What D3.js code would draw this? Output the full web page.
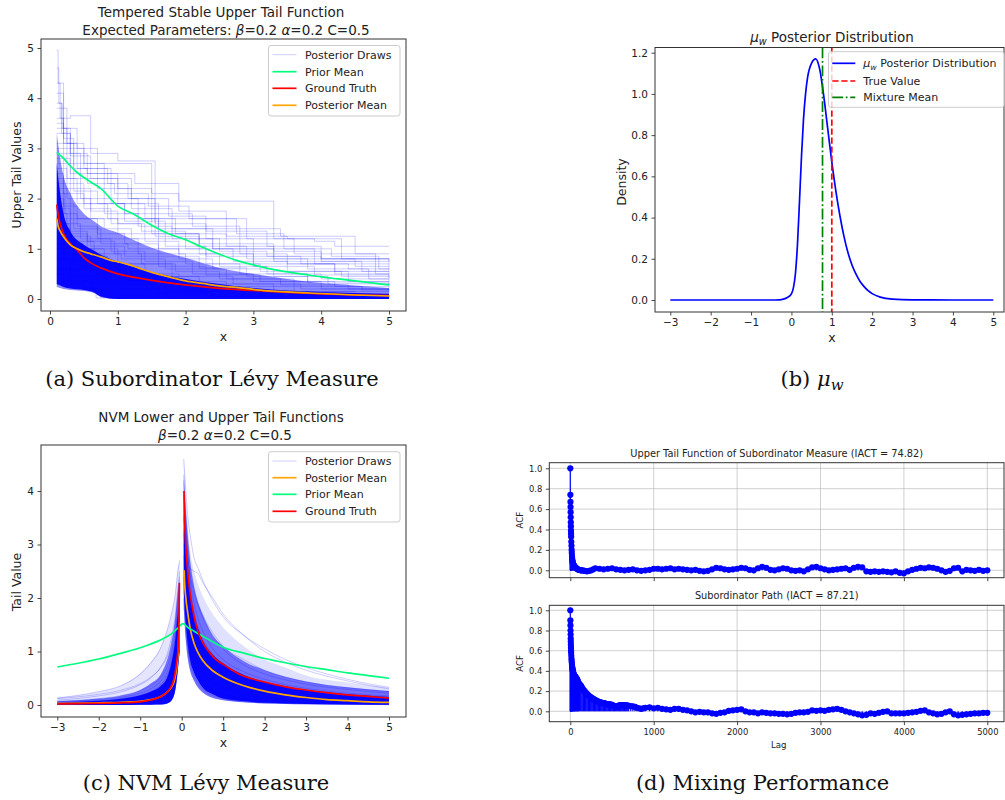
<!DOCTYPE html>
<html>
<head>
<meta charset="utf-8">
<script src="https://cdn.jsdelivr.net/npm/d3@7"></script>
<style>
  body { margin: 0; background: #ffffff; }
  svg { display: block; }
</style>
</head>
<body>
<script>
// ---------------- (a) Subordinator Lévy measure: upper tail function ----------------
const aPriorMean = [[0.1,2.92],[0.2,2.8],[0.3,2.65],[0.4,2.52],[0.5,2.42],[0.6,2.33],[0.75,2.2],[1.0,1.85],[1.25,1.68],[1.5,1.47],[1.75,1.3],[2.0,1.18],[2.25,1.03],[2.5,0.89],[2.75,0.77],[3.0,0.68],[3.25,0.6],[3.5,0.54],[3.75,0.49],[4.0,0.44],[4.25,0.4],[4.5,0.36],[4.75,0.32],[5.0,0.28]];
const aGroundTruth = [[0.1,1.88],[0.12,1.68],[0.15,1.5],[0.2,1.3],[0.25,1.18],[0.3,1.1],[0.4,0.98],[0.5,0.82],[0.6,0.72],[0.75,0.62],[1.0,0.5],[1.25,0.43],[1.5,0.37],[1.75,0.32],[2.0,0.28],[2.5,0.21],[3.0,0.17],[3.5,0.13],[4.0,0.1],[4.5,0.08],[5.0,0.07]];
const aPosteriorMean = [[0.1,1.6],[0.12,1.45],[0.15,1.35],[0.2,1.24],[0.25,1.15],[0.3,1.08],[0.4,1.0],[0.5,0.94],[0.6,0.9],[0.75,0.84],[0.9,0.77],[1.0,0.74],[1.15,0.69],[1.3,0.62],[1.5,0.53],[1.75,0.44],[2.0,0.36],[2.25,0.31],[2.5,0.26],[2.75,0.23],[3.0,0.19],[3.5,0.14],[4.0,0.11],[4.5,0.08],[5.0,0.06]];
// density envelopes of the posterior draws
const aBandX    = [0.1,0.15,0.2,0.3,0.5,0.65,0.75,1.0,1.5,2.0,2.5,3.0,3.5,4.0,4.5,5.0];
const aBandLow  = [0.24,0.22,0.2,0.18,0.16,0.12,0.04,0,0,0,0,0,0,0,0,0];
const aMidHigh  = [3.3,2.8,2.45,2.1,1.7,1.55,1.45,1.32,1.02,0.82,0.62,0.5,0.4,0.32,0.27,0.22];
const aCoreHigh = [2.7,2.1,1.7,1.35,1.08,0.96,0.88,0.74,0.54,0.4,0.3,0.22,0.17,0.14,0.12,0.1];
const aCoreLow  = [0.3,0.27,0.24,0.21,0.18,0.13,0.05,0,0,0,0,0,0,0,0,0];
// individual step-function posterior draws
const aDraws = [
  [[0.1,4.95],[0.12,4.3],[0.2,3.1],[0.4,2.6],[0.9,1.9],[1.6,1.4],[2.4,1.0],[3.3,0.75],[4.6,0.55],[5,0.55]],
  [[0.1,4.3],[0.15,3.6],[0.3,3.65],[0.6,2.9],[1.0,2.75],[1.55,1.25],[2.2,0.9],[3.0,0.7],[4.2,0.5],[5,0.5]],
  [[0.1,3.8],[0.25,3.1],[0.5,2.7],[1.5,2.1],[1.9,1.95],[3.3,1.2],[3.9,1.15],[4.2,1.05],[5,1.05]],
  [[0.1,3.5],[0.2,2.9],[0.45,2.4],[0.8,2.0],[1.3,1.6],[2.0,1.6],[2.9,1.2],[3.6,0.9],[4.8,0.5],[5,0.5]],
  [[0.1,3.3],[0.3,2.5],[0.7,2.2],[1.2,1.8],[1.8,1.4],[2.6,1.25],[3.5,1.2],[4.3,0.8],[5,0.8]],
  [[0.1,2.9],[0.2,2.3],[0.5,1.9],[1.1,1.55],[1.7,1.2],[2.5,0.95],[3.2,0.85],[4.0,0.75],[5,0.75]],
  [[0.1,2.6],[0.25,2.0],[0.6,1.6],[1.0,1.3],[1.6,1.0],[2.3,0.7],[3.1,0.55],[4.4,0.35],[5,0.35]],
  [[0.1,2.2],[0.3,1.6],[0.7,1.2],[1.3,0.9],[2.0,0.7],[2.8,0.5],[3.8,0.35],[5,0.3]],
  [[0.1,2.0],[0.2,1.5],[0.45,1.2],[0.9,0.95],[1.4,0.75],[2.1,0.5],[3.0,0.35],[4.0,0.2],[5,0.2]],
  [[0.1,1.7],[0.25,1.3],[0.55,1.0],[1.0,0.7],[1.8,0.45],[2.7,0.3],[3.7,0.2],[5,0.15]],
  [[0.1,1.4],[0.3,1.0],[0.8,0.7],[1.4,0.45],[2.2,0.3],[3.3,0.15],[4.5,0.1],[5,0.1]],
  [[0.1,1.2],[0.2,0.9],[0.6,0.6],[1.2,0.35],[2.0,0.2],[3.0,0.1],[5,0.05]],
  [[0.1,0.8],[0.3,0.6],[0.7,0.35],[1.5,0.2],[2.5,0.08],[3.5,0.03],[5,0.02]],
  [[0.1,0.5],[0.2,0.35],[0.6,0.2],[0.75,0.03],[1.8,0.01],[5,0.01]],
  [[0.1,0.3],[0.5,0.22],[0.68,0.02],[5,0.01]],
  [[0.1,3.1],[0.35,2.6],[0.55,2.3],[0.95,2.1],[1.45,1.85],[2.05,1.6],[2.75,1.3],[3.45,1.0],[4.15,0.85],[4.85,0.6],[5,0.6]],
  [[0.1,4.6],[0.13,3.9],[0.18,3.4],[0.4,3.0],[0.7,2.5],[1.25,2.3],[1.9,1.75],[2.6,1.4],[3.4,1.25],[4.5,0.9],[5,0.9]],
  [[0.1,2.4],[0.4,1.9],[0.85,1.6],[1.6,1.3],[2.2,1.05],[2.9,0.8],[3.8,0.6],[4.7,0.4],[5,0.4]],
  [[0.1,1.9],[0.35,1.4],[0.75,1.1],[1.15,1.0],[1.9,0.8],[2.4,0.6],[3.3,0.45],[4.1,0.3],[5,0.25]],
  [[0.1,1.5],[0.28,1.15],[0.65,0.9],[1.05,0.8],[1.7,0.6],[2.6,0.4],[3.6,0.25],[4.6,0.18],[5,0.18]],
  [[0.1,2.8],[0.3,2.2],[0.6,1.75],[1.0,1.5],[1.35,1.35],[2.0,1.0],[2.7,0.75],[3.5,0.55],[4.3,0.45],[5,0.4]],
  [[0.1,3.6],[0.2,3.2],[0.35,2.7],[0.8,2.4],[1.2,2.0],[1.55,1.5],[2.3,1.2],[3.0,1.0],[3.9,0.7],[5,0.65]],
  [[0.1,2.5],[0.2,2.1],[0.5,1.8],[0.9,1.5],[1.4,1.15],[1.9,0.9],[2.5,0.65],[3.2,0.5],[4.0,0.4],[5,0.35]],
  [[0.1,3.0],[0.25,2.4],[0.45,2.0],[0.8,1.7],[1.3,1.45],[1.8,1.2],[2.4,1.0],[3.0,0.85],[3.7,0.7],[4.4,0.6],[5,0.55]],
  [[0.1,2.1],[0.22,1.7],[0.4,1.45],[0.7,1.3],[1.1,1.1],[1.6,0.85],[2.2,0.62],[2.9,0.45],[3.8,0.32],[5,0.28]],
  [[0.1,1.8],[0.3,1.35],[0.55,1.15],[0.95,0.9],[1.35,0.7],[1.85,0.55],[2.5,0.4],[3.4,0.28],[4.4,0.2],[5,0.17]],
  [[0.1,1.3],[0.25,1.05],[0.5,0.85],[0.85,0.65],[1.3,0.5],[1.9,0.35],[2.6,0.25],[3.6,0.15],[5,0.12]],
  [[0.1,1.0],[0.2,0.8],[0.45,0.65],[0.8,0.5],[1.2,0.38],[1.7,0.25],[2.4,0.15],[3.4,0.08],[5,0.05]],
  [[0.1,3.9],[0.17,3.3],[0.3,2.9],[0.55,2.5],[1.0,2.2],[1.5,1.7],[2.1,1.45],[2.8,1.1],[3.3,0.95],[4.0,0.8],[5,0.7]],
  [[0.1,2.7],[0.35,2.15],[0.7,1.9],[1.1,1.7],[1.5,1.3],[2.2,1.1],[2.8,0.9],[3.5,0.7],[4.2,0.55],[5,0.45]],
  [[0.1,1.6],[0.3,1.25],[0.6,1.05],[1.1,0.85],[1.6,0.65],[2.3,0.48],[3.1,0.35],[4.2,0.25],[5,0.22]],
  [[0.1,2.3],[0.2,1.85],[0.4,1.6],[0.8,1.4],[1.2,1.2],[1.7,1.05],[2.3,0.85],[3.0,0.65],[3.9,0.48],[5,0.42]],
  [[0.1,0.6],[0.3,0.45],[0.65,0.3],[1.0,0.2],[1.6,0.12],[2.4,0.05],[5,0.03]],
  [[0.1,1.1],[0.35,0.75],[0.7,0.5],[1.1,0.3],[1.7,0.15],[2.7,0.06],[5,0.03]],
  [[0.1,4.1],[0.2,3.4],[0.25,3.0],[0.5,2.6],[0.85,2.3],[1.15,2.0],[1.75,1.65],[2.3,1.35],[3.2,1.05],[4.0,0.8],[5,0.75]],
  [[0.1,3.4],[0.3,2.85],[0.6,2.4],[1.0,1.9],[1.4,1.6],[1.85,1.3],[2.6,1.05],[3.3,0.8],[4.5,0.65],[5,0.6]]
];
const aXTicks = [0,1,2,3,4,5];
const aYTicks = [0,1,2,3,4,5];

// ---------------- (b) mu_w posterior ----------------
const bDensity = [[-3,0],[-1,0],[-0.5,0],[-0.3,0.001],[-0.2,0.004],[-0.1,0.012],[0,0.03],[0.05,0.06],[0.1,0.13],[0.15,0.27],[0.2,0.48],[0.25,0.7],[0.3,0.88],[0.35,1.0],[0.4,1.08],[0.5,1.15],[0.6,1.17],[0.7,1.12],[0.8,0.99],[0.9,0.83],[1.0,0.67],[1.1,0.53],[1.2,0.41],[1.3,0.31],[1.4,0.23],[1.5,0.17],[1.6,0.125],[1.7,0.09],[1.8,0.065],[1.9,0.045],[2.0,0.031],[2.2,0.014],[2.5,0.004],[3.0,0.0005],[4,0],[5,0]];
const bTrueValue = 1.0;
const bMixtureMean = 0.77;
const bXTicks = [-3,-2,-1,0,1,2,3,4,5];
const bYTicks = [0,0.2,0.4,0.6,0.8,1.0,1.2];

// ---------------- (c) NVM lower and upper tail functions ----------------
const cPriorMean = [[-3,0.71],[-2.5,0.78],[-2,0.86],[-1.5,0.96],[-1,1.07],[-0.75,1.14],[-0.5,1.22],[-0.25,1.33],[-0.1,1.43],[0.03,1.52],[0.15,1.45],[0.3,1.38],[0.5,1.29],[0.75,1.18],[1,1.08],[1.5,0.97],[2,0.87],[2.5,0.79],[3,0.72],[3.5,0.66],[4,0.6],[4.5,0.55],[5,0.5]];
const cGroundTruthLeft = [[-3,0.02],[-2,0.03],[-1.5,0.04],[-1,0.06],[-0.75,0.09],[-0.5,0.16],[-0.35,0.24],[-0.28,0.31],[-0.2,0.45],[-0.16,0.59],[-0.12,0.8],[-0.08,1.16],[-0.065,1.6],[-0.055,2.28]];
const cGroundTruthRight = [[0.055,4.0],[0.065,3.6],[0.08,3.25],[0.1,2.95],[0.12,2.72],[0.15,2.45],[0.2,2.1],[0.3,1.65],[0.36,1.46],[0.4,1.36],[0.5,1.18],[0.6,1.05],[0.75,0.91],[0.84,0.84],[1.0,0.76],[1.2,0.66],[1.4,0.57],[1.7,0.49],[2.0,0.43],[2.5,0.34],[3.0,0.28],[3.5,0.23],[4.0,0.19],[4.5,0.16],[5.0,0.13]];
const cPosteriorMeanLeft = [[-3,0.03],[-2,0.04],[-1,0.07],[-0.75,0.1],[-0.5,0.16],[-0.35,0.24],[-0.25,0.33],[-0.18,0.45],[-0.12,0.7],[-0.08,1.05],[-0.06,1.55]];
const cPosteriorMeanRight = [[0.06,2.52],[0.07,2.3],[0.1,2.0],[0.15,1.7],[0.2,1.45],[0.3,1.15],[0.4,0.97],[0.5,0.84],[0.75,0.64],[1.0,0.52],[1.5,0.36],[2.0,0.26],[2.5,0.19],[3.0,0.14],[3.5,0.1],[4.0,0.08],[4.5,0.06],[5.0,0.05]];
// density envelopes of the posterior draws (lower side x<0, upper side x>0)
const cLeftX     = [-3,-2,-1.5,-1,-0.75,-0.5,-0.35,-0.25,-0.15,-0.1,-0.05];
const cLeftLow   = [0,0,0,0.005,0.007,0.01,0.03,0.08,0.3,0.6,1.0];
const cLeftOuter = [0.14,0.25,0.35,0.6,0.8,1.1,1.4,1.7,2.1,2.5,2.7];
const cLeftMid   = [0.07,0.12,0.17,0.28,0.4,0.58,0.85,1.15,1.65,2.05,2.35];
const cLeftCore  = [0.045,0.08,0.11,0.18,0.25,0.36,0.52,0.78,1.25,1.65,1.95];
const cRightX     = [0.05,0.1,0.15,0.2,0.3,0.4,0.5,0.75,1,1.5,2,2.5,3,4,5];
const cRightLow   = [1.8,1.2,0.85,0.65,0.45,0.32,0.24,0.13,0.09,0.05,0.03,0.02,0.015,0.008,0.004];
const cRightOuter = [4.6,3.9,3.3,2.9,2.5,2.25,2.05,1.7,1.45,1.1,0.85,0.7,0.55,0.42,0.33];
const cRightMid   = [4.2,3.6,3.1,2.7,2.2,1.9,1.7,1.3,1.1,0.82,0.65,0.53,0.44,0.33,0.26];
const cRightCore  = [3.6,3.05,2.55,2.15,1.68,1.42,1.22,0.94,0.78,0.56,0.43,0.35,0.28,0.2,0.15];
const cRightCoreLow = [2.1,1.5,1.1,0.85,0.6,0.45,0.33,0.2,0.12,0.07,0.04,0.03,0.02,0.01,0.005];
// individual draws: values on cLeftX / cRightX
const cDrawsLeft = [
  [0.13,0.25,0.35,0.58,0.78,1.08,1.4,1.7,2.1,2.45,2.7],
  [0.09,0.17,0.24,0.38,0.5,0.72,0.95,1.25,1.7,2.1,2.4],
  [0.07,0.12,0.17,0.27,0.36,0.52,0.72,0.98,1.4,1.8,2.2],
  [0.05,0.08,0.12,0.18,0.25,0.38,0.55,0.78,1.2,1.6,2.0],
  [0.03,0.05,0.07,0.11,0.16,0.26,0.4,0.6,1.0,1.4,1.8],
  [0.02,0.03,0.05,0.08,0.11,0.18,0.3,0.48,0.85,1.2,1.6],
  [0.01,0.02,0.03,0.05,0.07,0.12,0.22,0.36,0.7,1.0,1.4],
  [0.005,0.01,0.015,0.03,0.05,0.09,0.16,0.28,0.55,0.85,1.2],
  [0.12,0.2,0.27,0.4,0.52,0.7,0.9,1.15,1.6,2.0,2.5],
  [0.06,0.1,0.14,0.22,0.3,0.45,0.62,0.88,1.3,1.7,2.3],
  [0.04,0.06,0.09,0.14,0.2,0.3,0.45,0.68,1.1,1.5,1.9]
];
const cDrawsRight = [
  [4.6,4.0,3.5,3.2,2.75,2.55,2.35,1.95,1.65,1.3,1.05,0.85,0.7,0.48,0.33],
  [4.2,3.6,3.1,2.7,2.2,1.9,1.7,1.35,1.1,0.85,0.65,0.52,0.43,0.32,0.25],
  [3.9,3.3,2.8,2.4,1.9,1.6,1.4,1.05,0.85,0.62,0.48,0.38,0.31,0.22,0.17],
  [3.5,2.9,2.4,2.0,1.55,1.3,1.1,0.8,0.62,0.43,0.32,0.25,0.2,0.14,0.1],
  [3.2,2.5,2.0,1.65,1.25,1.0,0.85,0.6,0.46,0.3,0.22,0.17,0.13,0.09,0.06],
  [2.8,2.1,1.65,1.35,1.0,0.78,0.64,0.43,0.32,0.2,0.14,0.1,0.08,0.05,0.03],
  [2.4,1.75,1.35,1.05,0.75,0.57,0.45,0.28,0.2,0.11,0.07,0.05,0.04,0.02,0.01],
  [2.0,1.4,1.05,0.8,0.55,0.4,0.3,0.18,0.12,0.06,0.04,0.03,0.02,0.01,0.005],
  [3.7,3.1,2.7,2.45,2.1,1.85,1.65,1.3,1.05,0.75,0.58,0.47,0.39,0.29,0.22],
  [4.3,3.4,2.8,2.3,1.75,1.45,1.25,0.95,0.75,0.52,0.4,0.32,0.26,0.19,0.15],
  [3.3,2.7,2.2,1.85,1.45,1.2,1.02,0.75,0.58,0.4,0.3,0.24,0.19,0.13,0.09],
  [3.0,2.7,2.6,2.55,2.5,2.45,2.3,2.0,1.7,1.3,1.0,0.8,0.65,0.45,0.3]
];
const cXTicks = [-3,-2,-1,0,1,2,3,4,5];
const cYTicks = [0,1,2,3,4];

// ---------------- (d) autocorrelation of the chains ----------------
const acfUpperTail = [[0,1.0],[1,0.74],[2,0.67],[3,0.62],[4,0.57],[5,0.52],[6,0.47],[7,0.43],[8,0.39],[9,0.36],[10,0.33],[12,0.28],[14,0.24],[16,0.2],[18,0.17],[20,0.14],[22,0.12],[24,0.1],[26,0.09],[28,0.08],[30,0.07],[33,0.06],[36,0.055],[40,0.05],[44,0.045],[48,0.04],[52,0.035],[56,0.03],[60,0.03],[65,0.025],[70,0.02],[75,0.02],[80,0.015],[90,0.01],[100,0.005],
  [110,0.004],[120,0.002],[130,0.0],[140,-0.002],[150,0.0],[175,-0.006],[200,-0.01],[225,-0.005],[250,0.0],[275,0.01],[300,0.02],[350,0.015],[400,0.01],[450,0.015],[500,0.02],[550,0.01],[600,0.005],[650,0.0],[700,0.005],[750,0.01],[800,0.0],[850,-0.005],[900,0.0],[950,0.005],[1000,0.015],[1050,0.015],[1100,0.01],[1150,0.015],[1200,0.02],[1250,0.01],[1300,0.015],[1350,0.01],[1400,0.005],[1450,0.0],[1500,0.005],[1550,-0.005],[1600,-0.01],[1650,-0.005],[1700,0.01],[1750,0.025],[1800,0.02],[1850,0.01],[1900,0.005],[1950,0.01],[2000,0.015],[2050,0.025],[2100,0.02],[2150,0.005],[2200,0.0],[2250,0.02],[2300,0.035],[2350,0.025],[2400,0.005],[2450,0.0],[2500,0.01],[2550,0.02],[2600,0.015],[2650,0.0],[2700,-0.005],[2750,0.0],[2800,-0.01],[2850,0.01],[2900,0.03],[2950,0.035],[3000,0.02],[3050,0.01],[3100,0.0],[3150,0.005],[3200,0.01],[3250,0.015],[3300,0.02],[3350,0.005],[3400,0.025],[3450,0.035],[3500,0.03],[3550,-0.01],[3600,-0.015],[3650,-0.01],[3700,-0.015],[3750,-0.01],[3800,-0.015],[3850,-0.02],[3900,-0.01],[3950,-0.025],[4000,-0.03],[4050,-0.01],[4100,0.005],[4150,0.015],[4200,0.025],[4250,0.02],[4300,0.03],[4350,0.025],[4400,0.015],[4450,0.0],[4500,-0.015],[4550,-0.005],[4600,0.02],[4650,0.025],[4700,-0.01],[4750,0.005],[4800,0.0],[4850,-0.005],[4900,0.005],[4950,-0.005],[5000,0.0]];
const acfPath = [[0,1.0],[1,0.9],[2,0.85],[3,0.8],[4,0.76],[5,0.72],[6,0.69],[7,0.66],[8,0.63],[9,0.6],[10,0.58],[12,0.55],[14,0.52],[16,0.5],[18,0.48],[20,0.46],[22,0.44],[24,0.43],[26,0.42],[28,0.41],[30,0.4],[33,0.39],[36,0.38],[40,0.37],[44,0.36],[48,0.355],[52,0.35],[56,0.345],[60,0.34],[65,0.335],[70,0.33],[75,0.325],[80,0.32],[85,0.31],[90,0.3],[95,0.29],
  [100,0.28],[110,0.27],[120,0.26],[130,0.25],[140,0.235],[150,0.22],[160,0.21],[170,0.2],[180,0.19],[190,0.18],[200,0.17],[210,0.163],[220,0.156],[230,0.149],[240,0.142],[250,0.135],[260,0.13],[270,0.125],[280,0.12],[290,0.115],[300,0.11],[310,0.106],[320,0.102],[330,0.098],[340,0.094],[350,0.09],[360,0.088],[370,0.086],[380,0.084],[390,0.082],[400,0.08],[410,0.078],[420,0.076],[430,0.074],[440,0.072],[450,0.07],[460,0.069],[470,0.068],[480,0.067],[490,0.066],[500,0.065],[510,0.06],[520,0.055],[530,0.05],[540,0.047],[550,0.045],[560,0.048],[570,0.052],[580,0.056],[590,0.059],[600,0.06],[610,0.061],[620,0.062],[630,0.062],[640,0.061],[650,0.06],[660,0.059],[670,0.058],[680,0.057],[690,0.056],[700,0.055],[725,0.052],[750,0.05],[775,0.043],[800,0.035],[825,0.03],[850,0.025],[875,0.03],[900,0.035],[950,0.04],[1000,0.03],[1050,0.035],[1100,0.025],[1150,0.02],[1200,0.015],[1250,0.025],[1300,0.025],[1350,0.015],[1400,0.01],[1450,0.0],[1500,-0.01],[1550,-0.005],[1600,-0.01],[1650,-0.01],[1700,-0.02],[1750,-0.025],[1800,-0.015],[1850,-0.01],[1900,0.005],[1950,0.01],[2000,0.015],[2050,0.02],[2100,0.0],[2150,-0.01],[2200,-0.01],[2250,-0.02],[2300,-0.01],[2350,-0.015],[2400,-0.02],[2450,-0.02],[2500,-0.025],[2550,-0.025],[2600,-0.03],[2650,-0.025],[2700,-0.015],[2750,-0.01],[2800,-0.01],[2850,-0.005],[2900,0.01],[2950,0.005],[3000,0.01],[3050,0.005],[3100,0.015],[3150,0.02],[3200,0.025],[3250,0.015],[3300,0.0],[3350,-0.01],[3400,-0.02],[3450,-0.03],[3500,-0.04],[3550,-0.035],[3600,-0.02],[3650,-0.025],[3700,-0.015],[3750,-0.005],[3800,0.0],[3850,-0.02],[3900,-0.02],[3950,-0.02],[4000,-0.02],[4050,-0.015],[4100,-0.01],[4150,-0.005],[4200,0.005],[4250,0.01],[4300,-0.01],[4350,-0.02],[4400,-0.03],[4450,-0.025],[4500,-0.01],[4550,0.0],[4600,-0.03],[4650,-0.04],[4700,-0.035],[4750,-0.03],[4800,-0.025],[4850,-0.02],[4900,-0.02],[4950,-0.015],[5000,-0.015]];
const dXTicks = [0,1000,2000,3000,4000,5000];
const dYTicks = [0,0.2,0.4,0.6,0.8,1.0];

// ---------------- drawing ----------------
const BLUE = "#0000ff", RED = "#ff0000", ORANGE = "#ffa500", GREEN = "#00ff7f", DKGREEN = "#008000";
const TXT = "#222222", SPINE = "#333333";
const SANS = "DejaVu Sans, sans-serif";
const SERIF = "DejaVu Serif, serif";

const svg = d3.select("body").append("svg").attr("width", 1005).attr("height", 800);
let clipCount = 0;

function makePanel(box) {
  const g = svg.append("g");
  const id = "clip" + (clipCount++);
  svg.append("defs").append("clipPath").attr("id", id)
    .append("rect").attr("x", box.x0).attr("y", box.y0)
    .attr("width", box.x1 - box.x0).attr("height", box.y1 - box.y0);
  const plot = g.append("g").attr("clip-path", `url(#${id})`);
  return { g, plot };
}

function frame(g, box) {
  g.append("rect").attr("x", box.x0).attr("y", box.y0)
    .attr("width", box.x1 - box.x0).attr("height", box.y1 - box.y0)
    .attr("fill", "none").attr("stroke", SPINE).attr("stroke-width", 1);
}

function styleAxis(sel, fs) {
  sel.attr("font-family", SANS).attr("font-size", fs);
  sel.select(".domain").remove();
  sel.selectAll(".tick line").attr("stroke", SPINE).attr("stroke-width", 0.9);
  sel.selectAll(".tick text").attr("fill", TXT);
}

function xAxis(g, scale, box, ticks, fmt, fs, labels = true) {
  const ax = d3.axisBottom(scale).tickValues(ticks).tickSize(3.5).tickPadding(3.5)
    .tickFormat(labels ? fmt : () => "");
  styleAxis(g.append("g").attr("transform", `translate(0,${box.y1})`).call(ax), fs);
}

function yAxis(g, scale, box, ticks, fmt, fs) {
  const ax = d3.axisLeft(scale).tickValues(ticks).tickSize(3.5).tickPadding(3.5).tickFormat(fmt);
  styleAxis(g.append("g").attr("transform", `translate(${box.x0},0)`).call(ax), fs);
}

function label(g, txt, x, y, fs, rotate = false, anchor = "middle") {
  const t = g.append("text").attr("x", x).attr("y", y).attr("font-family", SANS)
    .attr("font-size", fs).attr("fill", TXT).attr("text-anchor", anchor).text(txt);
  if (rotate) t.attr("transform", `rotate(-90,${x},${y})`);
  return t;
}

// writes "μ_w" (italic mu, italic subscript w) followed by optional text
function muW(t, fs, rest) {
  t.append("tspan").attr("font-style", "italic").text("μ");
  t.append("tspan").attr("font-style", "italic").attr("font-size", fs * 0.72).attr("dy", fs * 0.22).text("w");
  if (rest) t.append("tspan").attr("dy", -fs * 0.22).text(rest);
}

function legend(g, spec) {
  g.append("rect").attr("x", spec.x0).attr("y", spec.y0)
    .attr("width", spec.x1 - spec.x0).attr("height", spec.y1 - spec.y0)
    .attr("rx", 2.5).attr("fill", "#ffffff").attr("fill-opacity", 0.8)
    .attr("stroke", "#cccccc").attr("stroke-width", 1);
  spec.items.forEach((it, i) => {
    const y = spec.rows[i];
    g.append("line").attr("x1", spec.s0).attr("x2", spec.s1).attr("y1", y).attr("y2", y)
      .attr("stroke", it.color).attr("stroke-width", it.width || 1.7)
      .attr("stroke-opacity", it.opacity == null ? 1 : it.opacity)
      .attr("stroke-dasharray", it.dash || null);
    const t = g.append("text").attr("x", spec.tx).attr("y", y).attr("dy", "0.36em")
      .attr("font-family", SANS).attr("font-size", spec.fs).attr("fill", TXT);
    if (it.mu) muW(t, spec.fs, " " + it.label); else t.text(it.label);
  });
}

function caption(parts, cx, y) {
  const t = svg.append("text").attr("x", cx).attr("y", y).attr("text-anchor", "middle")
    .attr("font-family", SERIF).attr("font-size", 21).attr("fill", "#111");
  parts(t);
}

const TICK_FS = 10.5, LEG_FS = 11, LAB_FS = 12.5, TITLE_FS = 13.5;

// ===== (a) =====
{
  const box = { x0: 41, x1: 406, y0: 39, y1: 311 };
  const x = d3.scaleLinear().domain([0, 5]).range([50, 389]);
  const y = d3.scaleLinear().domain([0, 5]).range([299, 48]);
  const { g, plot } = makePanel(box);

  const area = (hi, lo) => d3.area().curve(d3.curveMonotoneX)
    .x((d, i) => x(aBandX[i])).y0((d, i) => y(lo[i])).y1((d, i) => y(hi[i]));
  plot.append("path").datum(aBandX).attr("d", area(aMidHigh, aBandLow)).attr("fill", BLUE).attr("fill-opacity", 0.45);
  plot.append("path").datum(aBandX).attr("d", area(aCoreHigh, aCoreLow)).attr("fill", BLUE).attr("fill-opacity", 0.95);

  const step = d3.line().curve(d3.curveStepAfter).x(d => x(d[0])).y(d => y(d[1]));
  aDraws.forEach(d => plot.append("path").attr("d", step(d)).attr("fill", "none")
    .attr("stroke", BLUE).attr("stroke-opacity", 0.2).attr("stroke-width", 1));

  const smooth = d3.line().curve(d3.curveMonotoneX).x(d => x(d[0])).y(d => y(d[1]));
  [[aPriorMean, GREEN], [aGroundTruth, RED], [aPosteriorMean, ORANGE]].forEach(([d, c]) =>
    plot.append("path").attr("d", smooth(d)).attr("fill", "none").attr("stroke", c).attr("stroke-width", 1.7));

  frame(g, box);
  xAxis(g, x, box, aXTicks, d3.format("d"), TICK_FS);
  yAxis(g, y, box, aYTicks, d3.format("d"), TICK_FS);
  label(g, "x", 223.5, 341, LAB_FS);
  label(g, "Upper Tail Values", 21, 175, LAB_FS, true);
  label(g, "Tempered Stable Upper Tail Function", 221, 17, TITLE_FS);
  const t2 = label(g, "", 226, 35, TITLE_FS);
  t2.append("tspan").text("Expected Parameters: ");
  t2.append("tspan").attr("font-style", "italic").text("β");
  t2.append("tspan").text("=0.2 ");
  t2.append("tspan").attr("font-style", "italic").text("α");
  t2.append("tspan").text("=0.2 C=0.5");

  legend(g, { x0: 268.5, y0: 45.5, x1: 400, y1: 116, s0: 272.5, s1: 296.5, tx: 305, fs: LEG_FS,
    rows: [54.7, 71.7, 88.3, 105.3],
    items: [
      { label: "Posterior Draws", color: BLUE, opacity: 0.2, width: 1 },
      { label: "Prior Mean", color: GREEN },
      { label: "Ground Truth", color: RED },
      { label: "Posterior Mean", color: ORANGE }
    ] });
}

// ===== (b) =====
{
  const box = { x0: 655, x1: 1004, y0: 47.5, y1: 312 };
  const x = d3.scaleLinear().domain([-3, 5]).range([670.3, 993.3]);
  const y = d3.scaleLinear().domain([0, 1.2]).range([300, 52.7]);
  const { g, plot } = makePanel(box);

  const line = d3.line().curve(d3.curveMonotoneX).x(d => x(d[0])).y(d => y(d[1]));
  plot.append("path").attr("d", line(bDensity)).attr("fill", "none").attr("stroke", BLUE).attr("stroke-width", 1.7);
  plot.append("line").attr("x1", x(bTrueValue)).attr("x2", x(bTrueValue)).attr("y1", box.y0).attr("y2", box.y1)
    .attr("stroke", RED).attr("stroke-width", 1.7).attr("stroke-dasharray", "6.3,2.7");
  plot.append("line").attr("x1", x(bMixtureMean)).attr("x2", x(bMixtureMean)).attr("y1", box.y0).attr("y2", box.y1)
    .attr("stroke", DKGREEN).attr("stroke-width", 1.7).attr("stroke-dasharray", "10.8,2.7,1.7,2.7");

  frame(g, box);
  xAxis(g, x, box, bXTicks, d3.format("d"), TICK_FS);
  yAxis(g, y, box, bYTicks, d3.format(".1f"), TICK_FS);
  label(g, "x", 832, 342, LAB_FS);
  label(g, "Density", 626, 182, LAB_FS, true);
  const tt = label(g, "", 832, 42, TITLE_FS);
  muW(tt, TITLE_FS, " Posterior Distribution");

  legend(g, { x0: 828.5, y0: 51.7, x1: 1004, y1: 107.3, s0: 832.3, s1: 855.3, tx: 863.3, fs: LEG_FS,
    rows: [63.3, 81, 97.3],
    items: [
      { label: "Posterior Distribution", mu: true, color: BLUE },
      { label: "True Value", color: RED, dash: "6.3,2.7" },
      { label: "Mixture Mean", color: DKGREEN, dash: "10.8,2.7,1.7,2.7" }
    ] });
}

// ===== (c) =====
{
  const box = { x0: 41, x1: 406, y0: 445, y1: 717 };
  const x = d3.scaleLinear().domain([-3, 5]).range([57.3, 389]);
  const y = d3.scaleLinear().domain([0, 4]).range([705, 491]);
  const { g, plot } = makePanel(box);

  const band = (xs, hi, lo) => d3.area().curve(d3.curveMonotoneX)
    .x((d, i) => x(xs[i])).y0((d, i) => y(lo[i])).y1((d, i) => y(hi[i]))(xs);
  [[cLeftX, cLeftOuter, cLeftLow, 0.1], [cLeftX, cLeftMid, cLeftLow, 0.5], [cLeftX, cLeftCore, cLeftLow, 0.95],
   [cRightX, cRightOuter, cRightLow, 0.12], [cRightX, cRightMid, cRightLow, 0.5], [cRightX, cRightCore, cRightCoreLow, 0.95]]
    .forEach(([xs, hi, lo, op]) => plot.append("path").attr("d", band(xs, hi, lo)).attr("fill", BLUE).attr("fill-opacity", op));

  const gridLine = xs => d3.line().curve(d3.curveMonotoneX).x((d, i) => x(xs[i])).y(d => y(d));
  cDrawsLeft.forEach(v => plot.append("path").attr("d", gridLine(cLeftX)(v)).attr("fill", "none")
    .attr("stroke", BLUE).attr("stroke-opacity", 0.2).attr("stroke-width", 1));
  cDrawsRight.forEach(v => plot.append("path").attr("d", gridLine(cRightX)(v)).attr("fill", "none")
    .attr("stroke", BLUE).attr("stroke-opacity", 0.2).attr("stroke-width", 1));

  const smooth = d3.line().curve(d3.curveMonotoneX).x(d => x(d[0])).y(d => y(d[1]));
  [[cPosteriorMeanLeft, ORANGE], [cPosteriorMeanRight, ORANGE], [cPriorMean, GREEN],
   [cGroundTruthLeft, RED], [cGroundTruthRight, RED]].forEach(([d, c]) =>
    plot.append("path").attr("d", smooth(d)).attr("fill", "none").attr("stroke", c).attr("stroke-width", 1.7));

  frame(g, box);
  xAxis(g, x, box, cXTicks, d3.format("d"), TICK_FS);
  yAxis(g, y, box, cYTicks, d3.format("d"), TICK_FS);
  label(g, "x", 223.5, 747, LAB_FS);
  label(g, "Tail Value", 21, 582, LAB_FS, true);
  label(g, "NVM Lower and Upper Tail Functions", 221, 422, TITLE_FS);
  const t2 = label(g, "", 225, 440, TITLE_FS);
  t2.append("tspan").attr("font-style", "italic").text("β");
  t2.append("tspan").text("=0.2 ");
  t2.append("tspan").attr("font-style", "italic").text("α");
  t2.append("tspan").text("=0.2 C=0.5");

  legend(g, { x0: 268.5, y0: 451.7, x1: 400, y1: 522, s0: 272.5, s1: 296.5, tx: 305, fs: LEG_FS,
    rows: [461, 477.7, 494.3, 511.3],
    items: [
      { label: "Posterior Draws", color: BLUE, opacity: 0.2, width: 1 },
      { label: "Posterior Mean", color: ORANGE },
      { label: "Prior Mean", color: GREEN },
      { label: "Ground Truth", color: RED }
    ] });
}

// ===== (d) =====
function acfPanel(box, yZero, yOne, data, title, showX) {
  const x = d3.scaleLinear().domain([0, 5000]).range([570.3, 987.3]);
  const y = d3.scaleLinear().domain([0, 1]).range([yZero, yOne]);
  const { g, plot } = makePanel(box);
  const grid = plot.append("g").attr("stroke", "#b0b0b0").attr("stroke-opacity", 0.6).attr("stroke-width", 1);
  dXTicks.forEach(v => grid.append("line").attr("x1", x(v)).attr("x2", x(v)).attr("y1", box.y0).attr("y2", box.y1));
  dYTicks.forEach(v => grid.append("line").attr("x1", box.x0).attr("x2", box.x1).attr("y1", y(v)).attr("y2", y(v)));
  plot.append("g").selectAll("line").data(data).join("line")
    .attr("x1", d => x(d[0])).attr("x2", d => x(d[0])).attr("y1", y(0)).attr("y2", d => y(d[1]))
    .attr("stroke", BLUE).attr("stroke-width", 1.2);
  plot.append("g").selectAll("circle").data(data).join("circle")
    .attr("cx", d => x(d[0])).attr("cy", d => y(d[1])).attr("r", 3.1).attr("fill", BLUE);
  frame(g, box);
  xAxis(g, x, box, dXTicks, d3.format("d"), 8.4, showX);
  yAxis(g, y, box, dYTicks, d3.format(".1f"), 8.4);
  label(g, "ACF", 523, (box.y0 + box.y1) / 2, 8.6, true);
  label(g, title, 776.7, box.y0 - 6, 9.8);
  return x;
}
acfPanel({ x0: 549.3, x1: 1004, y0: 462.7, y1: 577.7 }, 570.3, 468.3, acfUpperTail,
  "Upper Tail Function of Subordinator Measure (IACT = 74.82)", false);
acfPanel({ x0: 549.3, x1: 1004, y0: 605.3, y1: 721.7 }, 711.3, 610.3, acfPath,
  "Subordinator Path (IACT = 87.21)", true);
label(svg, "Lag", 778.7, 747.5, 8.6);

// ===== sub-figure captions =====
caption(t => t.text("(a) Subordinator Lévy Measure"), 212, 386);
caption(t => {
  t.append("tspan").text("(b) ");
  t.append("tspan").attr("font-style", "italic").text("μ");
  t.append("tspan").attr("font-style", "italic").attr("font-size", 15).attr("dy", 4).text("w");
}, 812, 386);
caption(t => t.text("(c) NVM Lévy Measure"), 206, 790);
caption(t => t.text("(d) Mixing Performance"), 762.5, 790);
</script>
</body>
</html>
